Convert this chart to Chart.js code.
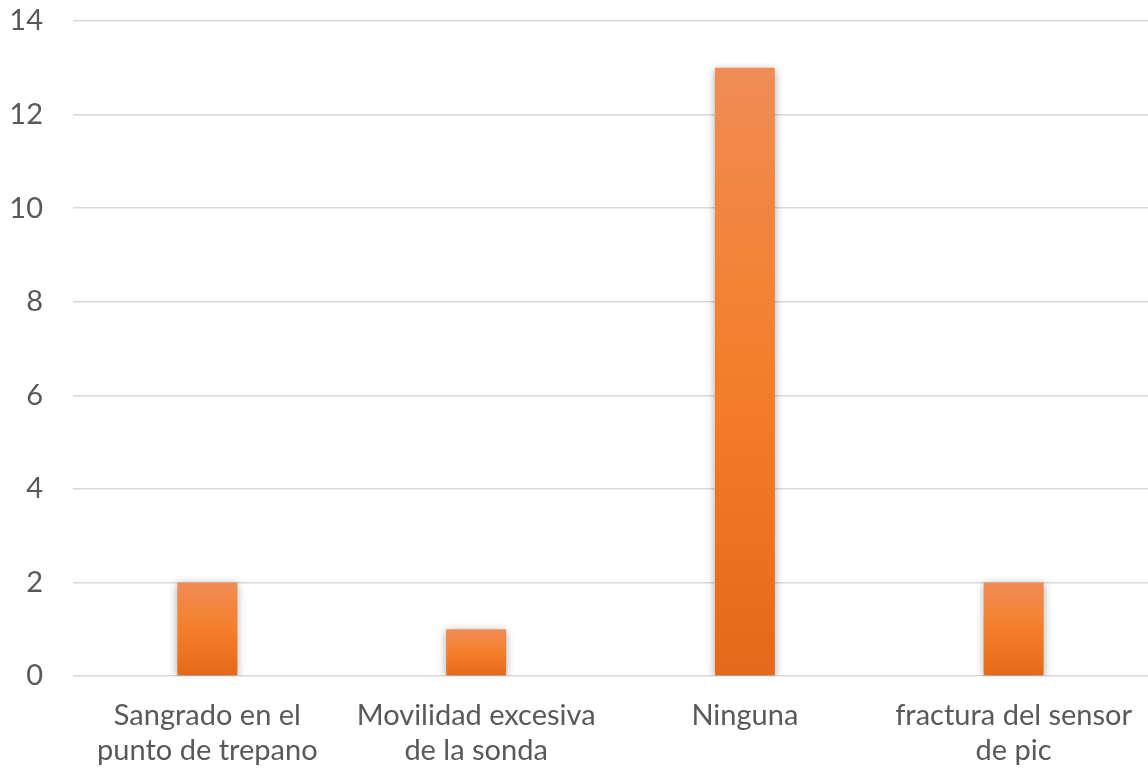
<!DOCTYPE html>
<html>
<head>
<meta charset="utf-8">
<script src="https://cdn.jsdelivr.net/npm/chart.js@4/dist/chart.umd.min.js"></script>
<style>
  html, body { margin: 0; padding: 0; background: #ffffff; }
  #wrap { width: 1148px; height: 774px; }
</style>
</head>
<body>
<div id="wrap"><canvas id="c"></canvas></div>
<script>
// Complicaciones registradas
const categories = [
    ['Sangrado en el', 'punto de trepano'],
    ['Movilidad excesiva', 'de la sonda'],
    'Ninguna',
    ['fractura del sensor', 'de pic'],
];
const counts = [2, 1, 13, 2];
const yTicks = [0, 2, 4, 6, 8, 10, 12, 14];

const FONT = "Lato, 'Open Sans', sans-serif";

// vertical orange gradient per bar, lighter at the top
function barGradient(ctx) {
    const chart = ctx.chart;
    const y = chart.scales && chart.scales.y;
    if (!chart.chartArea || !y || ctx.type !== 'data') return '#f27f2b';
    const top = y.getPixelForValue(ctx.raw);
    const bottom = y.getPixelForValue(0);
    if (!isFinite(top) || !isFinite(bottom) || top === bottom) return '#f27f2b';
    const g = chart.ctx.createLinearGradient(0, top, 0, bottom);
    g.addColorStop(0, '#f08c55');
    g.addColorStop(0.5, '#f47f2a');
    g.addColorStop(1, '#e4691a');
    return g;
}

// soft drop shadow behind the bars
const barShadow = {
    id: 'barShadow',
    beforeDatasetsDraw(chart) {
        const c = chart.ctx;
        c.save();
        c.shadowColor = 'rgba(0,0,0,0.35)';
        c.shadowBlur = 8;
        c.shadowOffsetX = 0;
        c.shadowOffsetY = 2;
    },
    afterDatasetsDraw(chart) {
        chart.ctx.restore();
    },
};

new Chart(document.getElementById('c'), {
    type: 'bar',
    data: {
        labels: categories,
        datasets: [{
            data: counts,
            backgroundColor: barGradient,
            borderWidth: 0,
            categoryPercentage: 1,
            barPercentage: 0.223,
        }],
    },
    options: {
        responsive: true,
        maintainAspectRatio: false,
        animation: false,
        layout: { padding: { top: 21, right: 0, left: 0, bottom: 0 } },
        plugins: {
            legend: { display: false },
            tooltip: { enabled: false },
        },
        scales: {
            x: {
                grid: { display: false, drawTicks: false },
                border: { display: false },
                ticks: {
                    color: '#595959',
                    font: { family: FONT, size: 29, lineHeight: 1.2 },
                    padding: 22,
                    maxRotation: 0,
                    autoSkip: false,
                },
                afterFit: s => {
                    s.height = 98;
                    s.paddingLeft = 0;
                    s.paddingRight = 0;
                },
            },
            y: {
                min: 0,
                max: 14,
                afterBuildTicks: s => { s.ticks = yTicks.map(v => ({ value: v })); },
                grid: { color: '#d9d9d9', lineWidth: 1.5, drawTicks: false },
                border: { display: false },
                ticks: {
                    color: '#595959',
                    font: { family: FONT, size: 29, lineHeight: 1.2 },
                    padding: 30,
                },
                afterFit: s => {
                    s.width = 73;
                    s.paddingTop = 0;
                    s.paddingBottom = 0;
                },
            },
        },
    },
    plugins: [barShadow],
});
</script>
</body>
</html>
